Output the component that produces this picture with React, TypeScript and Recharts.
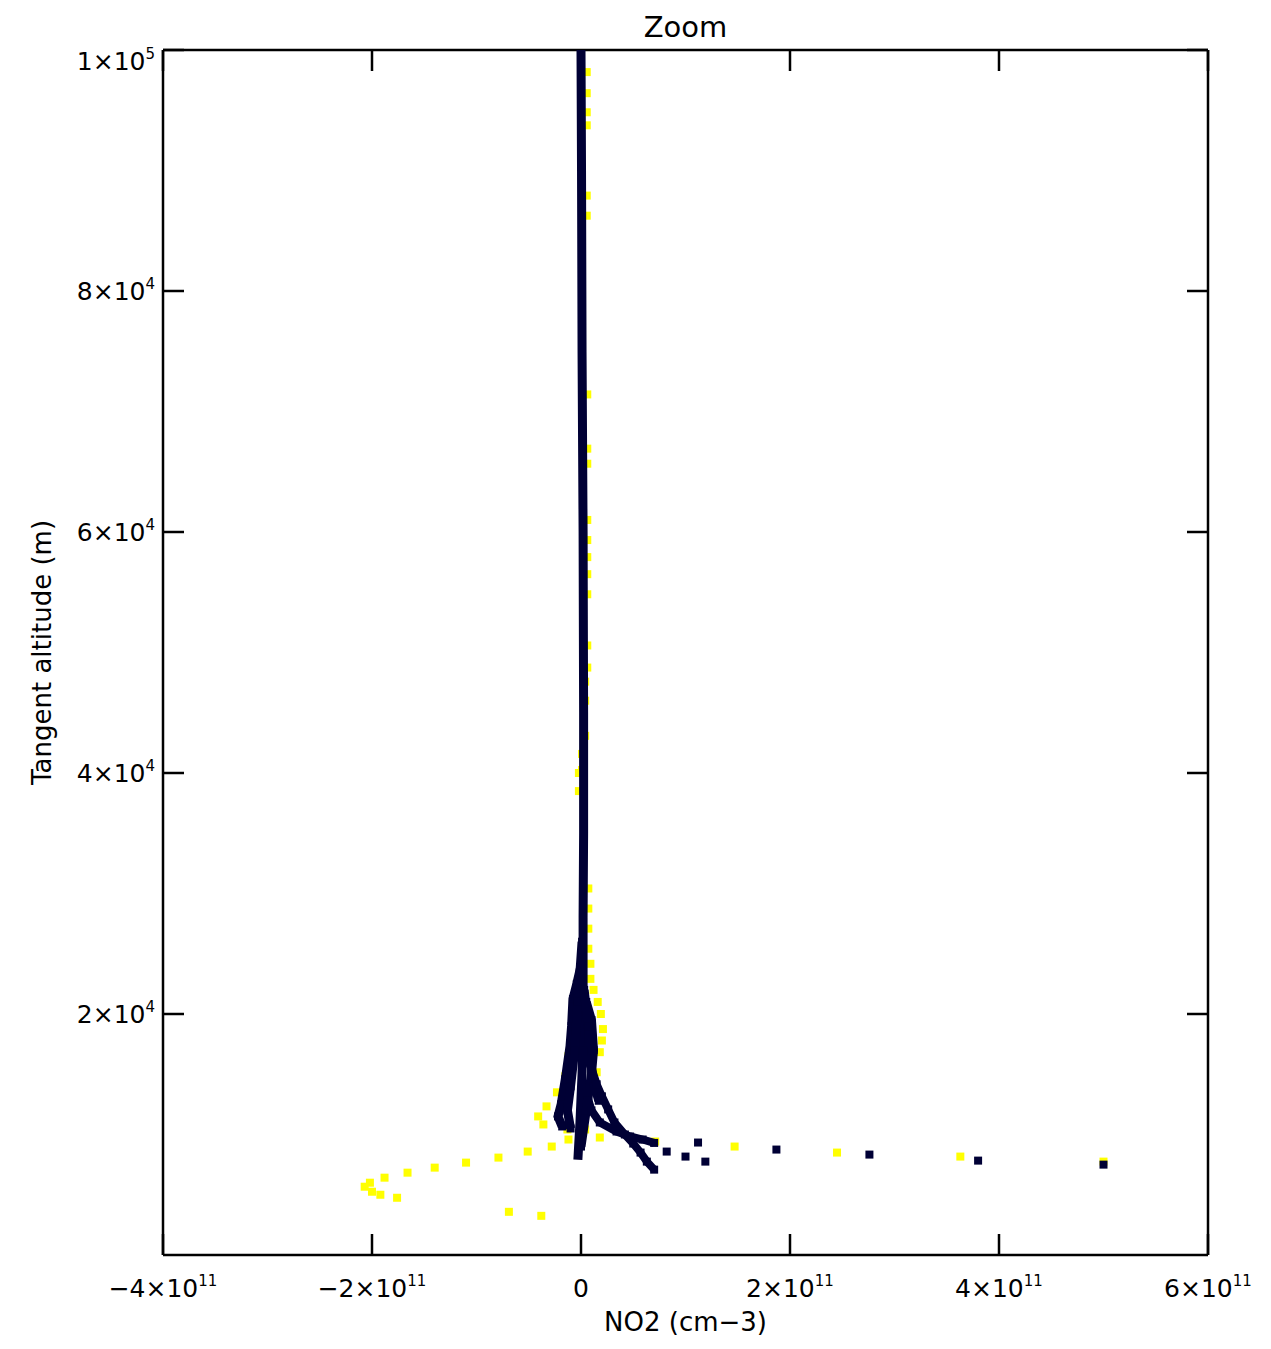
import { ScatterChart, Scatter, XAxis, YAxis } from 'recharts'

const NAVY = '#000035'
const YELLOW = '#ffff00'
const FONT = '"DejaVu Sans", sans-serif'

// axis ticks and their labels (mantissa ^ exponent)
const xTicks = [-4e11, -2e11, 0, 2e11, 4e11, 6e11]
const xTickLabels = ['−4×10^11', '−2×10^11', '0', '2×10^11', '4×10^11', '6×10^11']
const yTicks = [2e4, 4e4, 6e4, 8e4, 1e5]
const yTickLabels = ['2×10^4', '4×10^4', '6×10^4', '8×10^4', '1×10^5']

// NO2 (cm-3) vs tangent altitude (m)
const navyColumn: [number, number][] = [
  [0, 100000], [0.005e11, 90000], [0.01e11, 75000], [0.02e11, 60000], [0.025e11, 45000],
  [0.025e11, 35000], [0.02e11, 28000], [0.02e11, 20000], [0.01e11, 15000], [-0.01e11, 11000], [-0.03e11, 7900],
]
const navyLeft: [number, number][] = [
  [0, 24000], [-0.04e11, 22500], [-0.077e11, 21250], [-0.09e11, 19000], [-0.105e11, 17333],
  [-0.15e11, 14583], [-0.19e11, 12500], [-0.22e11, 11500], [-0.18e11, 10667],
]
const navyLeft2: [number, number][] = [
  [0.01e11, 26000], [-0.03e11, 21000], [-0.06e11, 17000], [-0.1e11, 14000], [-0.13e11, 12000], [-0.1e11, 10500],
]
const navyInner: [number, number][] = [
  [0.05e11, 21000], [0.1e11, 19500], [0.12e11, 17000], [0.1e11, 15000], [0.05e11, 12000], [0, 9000],
]
const navyRightC: [number, number][] = [
  [0.03e11, 22000], [0.07e11, 19000], [0.09e11, 16000], [0.13e11, 14000], [0.17e11, 12800],
]
const navyRightA: [number, number][] = [
  [0.02e11, 17000], [0.1e11, 15500], [0.15e11, 14167], [0.2e11, 13167], [0.26e11, 12083], [0.32e11, 11000],
  [0.42e11, 10000], [0.5e11, 9250], [0.57e11, 8500], [0.63e11, 7750], [0.7e11, 7083],
]
const navyRightB: [number, number][] = [
  [0.05e11, 13500], [0.1e11, 12000], [0.18e11, 11000], [0.34e11, 10250], [0.47e11, 9833], [0.59e11, 9583], [0.7e11, 9300],
]
const navyOutliers: [number, number][] = [
  [0.82e11, 8583], [1.0e11, 8167], [1.12e11, 9333], [1.19e11, 7750], [1.87e11, 8750],
  [2.76e11, 8333], [3.8e11, 7833], [5.0e11, 7500],
]

const yellowUpper: [number, number][] = [
  [0.055e11, 98167], [0.055e11, 96417], [0.055e11, 94833], [0.055e11, 93750], [0.055e11, 87917], [0.055e11, 86250],
  [0.06e11, 71417], [0.06e11, 66917], [0.06e11, 65667], [0.06e11, 61000], [0.06e11, 59333], [0.06e11, 57917],
  [0.06e11, 56500], [0.06e11, 54833], [0.06e11, 50583], [0.06e11, 48750], [0.04e11, 47583], [0.04e11, 46000],
  [0.04e11, 43083], [0.01e11, 41583], [0.01e11, 40250], [-0.02e11, 40000], [-0.02e11, 38500],
]
const yellowBulge: [number, number][] = [
  [0.07e11, 30417], [0.07e11, 28750], [0.07e11, 27083], [0.07e11, 25417], [0.09e11, 24167], [0.09e11, 22917],
  [0.12e11, 22000], [0.16e11, 21000], [0.19e11, 20000], [0.21e11, 18750], [0.2e11, 17800], [0.18e11, 16833],
  [0.15e11, 15167], [0.12e11, 14000],
]
const yellowLeft: [number, number][] = [
  [-0.077e11, 18167], [-0.12e11, 16500], [-0.15e11, 14833], [-0.23e11, 13500], [-0.33e11, 12333],
  [-0.41e11, 11500], [-0.36e11, 10833], [-0.13e11, 10417],
]
const yellowLow: [number, number][] = [
  [-0.12e11, 9583], [-0.28e11, 9000], [-0.51e11, 8583], [-0.79e11, 8083], [-1.1e11, 7667], [-1.4e11, 7250],
  [-1.66e11, 6833], [-1.88e11, 6417], [-2.02e11, 6000], [-2.07e11, 5667], [-2.0e11, 5250], [-1.92e11, 5000],
  [-1.76e11, 4750], [-0.69e11, 3583], [-0.38e11, 3250],
]
const yellowRight: [number, number][] = [
  [0.04e11, 10417], [0.18e11, 9750], [0.71e11, 9417], [1.47e11, 9000], [2.45e11, 8500], [3.63e11, 8167], [5.0e11, 7750],
]

const pts = (a: [number, number][]) => a.map(([x, y]) => ({ x, y }))

const square = (color: string, s = 8) => (p: any) => (
  <rect x={p.cx - s / 2} y={p.cy - s / 2} width={s} height={s} fill={color} />
)
const none = () => <g />

function TickText({ x, y, label, anchor }: { x: number; y: number; label: string; anchor: 'middle' | 'end' }) {
  const [m, e] = label.split('^')
  return (
    <text x={x} y={y} textAnchor={anchor} fontFamily={FONT} fontSize={25} fill="#000">
      {m}
      {e && <tspan dy={-11} fontSize={15}>{e}</tspan>}
    </text>
  )
}

const XTick = (p: any) => (
  <TickText x={p.x} y={p.y + 34} anchor="middle" label={xTickLabels[xTicks.indexOf(p.payload.value)] ?? ''} />
)
const YTick = (p: any) => {
  const v = p.payload.value
  return (
    <TickText x={p.x} y={p.y + 9 + (v === 1e5 ? 11 : 0)} anchor="end" label={yTickLabels[yTicks.indexOf(v)] ?? ''} />
  )
}
const NoLabel = () => <g />

const frame = { stroke: '#000', strokeWidth: 2.5 }

export default function App() {
  return (
    <div style={{ position: 'relative', width: 1263, height: 1341 }}>
      <div
        style={{
          position: 'absolute', left: 155, width: 1045, top: 2, textAlign: 'center',
          fontFamily: FONT, fontSize: 29, lineHeight: '34px', color: '#000',
        }}
      >
        Zoom
      </div>
      <ScatterChart width={1263} height={1341} margin={{ top: 42, right: 63, left: 0, bottom: 0 }}>
        <XAxis
          type="number" dataKey="x" domain={[-4e11, 6e11]} ticks={xTicks} allowDataOverflow
          tick={<XTick />} tickLine={false} axisLine={frame} height={94}
          label={{ value: 'NO2 (cm−3)', position: 'insideBottom', offset: 18, style: { fontFamily: FONT, fontSize: 26, fill: '#000' } }}
        />
        <XAxis
          xAxisId="xb" type="number" dataKey="x" orientation="bottom" mirror domain={[-4e11, 6e11]} ticks={xTicks}
          allowDataOverflow tick={<NoLabel />} tickSize={21} tickLine={frame} axisLine={false}
        />
        <XAxis
          xAxisId="xt" type="number" dataKey="x" orientation="top" mirror domain={[-4e11, 6e11]} ticks={xTicks}
          allowDataOverflow tick={<NoLabel />} tickSize={21} tickLine={frame} axisLine={frame}
        />
        <YAxis
          type="number" dataKey="y" domain={[0, 1e5]} ticks={yTicks} allowDataOverflow
          tick={<YTick />} tickLine={false} axisLine={frame} width={155}
          label={{ value: 'Tangent altitude (m)', angle: -90, position: 'insideLeft', offset: 34, style: { textAnchor: 'middle', fontFamily: FONT, fontSize: 26, fill: '#000' } }}
        />
        <YAxis
          yAxisId="yl" type="number" dataKey="y" orientation="left" mirror domain={[0, 1e5]} ticks={yTicks}
          allowDataOverflow tick={<NoLabel />} tickSize={21} tickLine={frame} axisLine={false}
        />
        <YAxis
          yAxisId="yr" type="number" dataKey="y" orientation="right" mirror domain={[0, 1e5]} ticks={yTicks}
          allowDataOverflow tick={<NoLabel />} tickSize={21} tickLine={frame} axisLine={frame}
        />

        <Scatter data={pts(yellowUpper)} shape={square(YELLOW)} isAnimationActive={false} />
        <Scatter data={pts(yellowBulge)} shape={square(YELLOW)} isAnimationActive={false} />
        <Scatter data={pts(yellowLeft)} shape={square(YELLOW)} isAnimationActive={false} />
        <Scatter data={pts(yellowLow)} shape={square(YELLOW)} isAnimationActive={false} />
        <Scatter data={pts(yellowRight)} shape={square(YELLOW)} isAnimationActive={false} />

        <Scatter data={pts(navyColumn)} line={{ stroke: NAVY, strokeWidth: 9 }} shape={none} isAnimationActive={false} />
        <Scatter data={pts(navyLeft)} line={{ stroke: NAVY, strokeWidth: 9 }} shape={square(NAVY)} isAnimationActive={false} />
        <Scatter data={pts(navyLeft2)} line={{ stroke: NAVY, strokeWidth: 9 }} shape={square(NAVY)} isAnimationActive={false} />
        <Scatter data={pts(navyInner)} line={{ stroke: NAVY, strokeWidth: 9 }} shape={square(NAVY)} isAnimationActive={false} />
        <Scatter data={pts(navyRightC)} line={{ stroke: NAVY, strokeWidth: 9 }} shape={square(NAVY)} isAnimationActive={false} />
        <Scatter data={pts(navyRightA)} line={{ stroke: NAVY, strokeWidth: 8 }} shape={square(NAVY)} isAnimationActive={false} />
        <Scatter data={pts(navyRightB)} line={{ stroke: NAVY, strokeWidth: 8 }} shape={square(NAVY)} isAnimationActive={false} />
        <Scatter data={pts(navyOutliers)} shape={square(NAVY)} isAnimationActive={false} />
      </ScatterChart>
    </div>
  )
}
